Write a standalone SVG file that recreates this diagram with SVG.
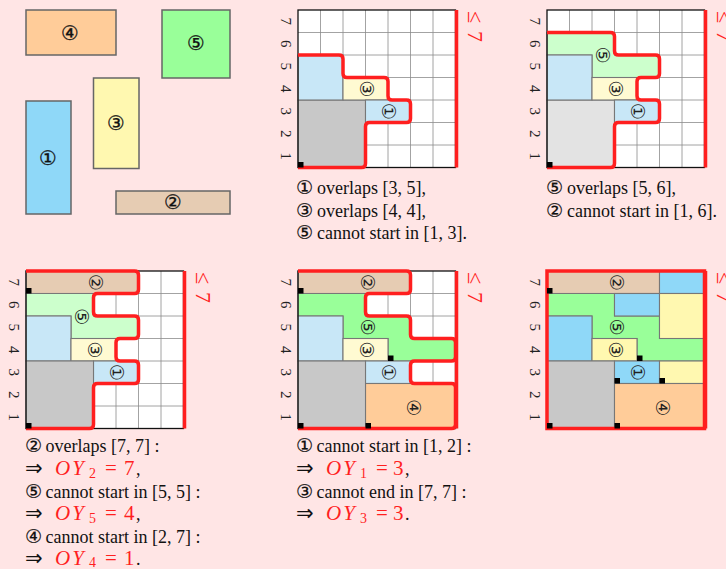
<svg xmlns="http://www.w3.org/2000/svg" xmlns:xlink="http://www.w3.org/1999/xlink" width="726" height="569" viewBox="0 0 726 569">
<style>
.bg{fill:#ffe5e5}
.sh{stroke:#666;stroke-width:1.5}
.c{stroke:#777;stroke-width:1.1}
.lb{fill:#c8e7f7}.ly{fill:#fffad2}.g1{fill:#c8c8c8}.g2{fill:#e3e3e3}
.lg{fill:#ccffcc}.gr{fill:#99ff99}.br{fill:#e6ccb3}.or{fill:#ffcc99}
.bl{fill:#8fd8f8}.ye{fill:#fff8b0}
.red{fill:none;stroke:#ff1f1f;stroke-width:3.5}
.sq{fill:#000}
.rl{font-family:"Liberation Serif","DejaVu Serif",serif;font-size:15px;fill:#222;text-anchor:middle}
.cn{font-family:"DejaVu Sans",sans-serif;font-size:19px;fill:#222;text-anchor:middle}
.cb{font-family:"DejaVu Sans",sans-serif;font-size:20px;fill:#111;text-anchor:middle;stroke:#111;stroke-width:0.3}
.le{font-family:"Liberation Serif","DejaVu Serif",serif;font-size:22px;fill:#ff1f1f}
.t{font-family:"Liberation Serif","DejaVu Sans",serif;font-size:18px;fill:#111}
.cd{font-family:"DejaVu Sans",sans-serif;font-size:19px;stroke:#111;stroke-width:0.2}
.ar{font-family:"DejaVu Sans",sans-serif;font-size:21px}
.mi{font-style:italic;fill:#ff1f1f;font-size:21px;letter-spacing:2px}
.sub{fill:#ff1f1f;font-size:14px}
.r{fill:#ff1f1f;font-size:21px}
</style>
<defs>
<g id="grid">
<rect width="157.5" height="157.5" fill="#fff"/>
<path d="M22.5 0V157.5M45 0V157.5M67.5 0V157.5M90 0V157.5M112.5 0V157.5M135 0V157.5M0 22.5H157.5M0 45H157.5M0 67.5H157.5M0 90H157.5M0 112.5H157.5M0 135H157.5" stroke="#8c8c8c" stroke-width="0.8" fill="none"/>
</g>
<rect id="frame" width="157.5" height="157.5" fill="none" stroke="#111" stroke-width="1.3"/>
<g id="rows" class="rl">
<text transform="translate(-12,11.25) rotate(90)" dy="0.35em">7</text>
<text transform="translate(-12,33.75) rotate(90)" dy="0.35em">6</text>
<text transform="translate(-12,56.25) rotate(90)" dy="0.35em">5</text>
<text transform="translate(-12,78.75) rotate(90)" dy="0.35em">4</text>
<text transform="translate(-12,101.25) rotate(90)" dy="0.35em">3</text>
<text transform="translate(-12,123.75) rotate(90)" dy="0.35em">2</text>
<text transform="translate(-12,146.25) rotate(90)" dy="0.35em">1</text>
</g>
<g id="bound">
<line x1="158.5" y1="0" x2="158.5" y2="157.5" stroke="#ff1f1f" stroke-width="3.5"/>
<text class="le" transform="translate(170,0) rotate(90)"><tspan x="1">≤</tspan><tspan x="21">7</tspan></text>
</g>
</defs>
<rect class="bg" width="726" height="569"/>

<g id="shape4"><rect class="sh or" x="26" y="10" width="90" height="45"/><text class="cb" x="70" y="33" dy="0.35em">④</text></g>
<g id="shape5"><rect class="sh gr" x="162" y="10" width="68" height="68"/><text class="cb" x="196" y="43" dy="0.35em">⑤</text></g>
<g id="shape3"><rect class="sh ye" x="93.5" y="78" width="45.5" height="90.5"/><text class="cb" x="116" y="123" dy="0.35em">③</text></g>
<g id="shape1"><rect class="sh bl" x="26" y="101" width="45" height="113"/><text class="cb" x="48" y="158" dy="0.35em">①</text></g>
<g id="shape2"><rect class="sh br" x="116" y="191" width="114" height="23"/><text class="cb" x="173" y="202" dy="0.35em">②</text></g>

<g id="panel1" transform="translate(298,10)">
<use href="#grid"/>
<rect class="c g1" x="0" y="90" width="67.5" height="67.5"/>
<rect class="c lb" x="0" y="45" width="45" height="45"/>
<rect class="c ly" x="45" y="67.5" width="45" height="22.5"/>
<rect class="c lb" x="67.5" y="90" width="45" height="22.5"/>
<use href="#frame"/>
<path class="red" d="M0,45 L41,45 Q45,45 45,49 L45,63.5 Q45,67.5 49,67.5 L86,67.5 Q90,67.5 90,71.5 L90,86 Q90,90 94,90 L108.5,90 Q112.5,90 112.5,94 L112.5,108.5 Q112.5,112.5 108.5,112.5 L71.5,112.5 Q67.5,112.5 67.5,116.5 L67.5,153.5 Q67.5,157.5 63.5,157.5 L0,157.5"/>
<rect class="sq" x="0" y="152" width="5.5" height="5.5"/>
<text class="cn" transform="translate(68.5,78.75) rotate(90)" dy="0.35em">③</text>
<text class="cn" transform="translate(90.5,101.25) rotate(90)" dy="0.35em">①</text>
<use href="#rows"/><use href="#bound"/>
</g>

<g id="panel2" transform="translate(547,10)">
<use href="#grid"/>
<rect class="c g2" x="0" y="90" width="67.5" height="67.5"/>
<path class="c lg" d="M0,22.5H67.5V45H112.5V67.5H45V45H0Z"/>
<rect class="c lb" x="0" y="45" width="45" height="45"/>
<rect class="c ly" x="45" y="67.5" width="45" height="22.5"/>
<rect class="c lb" x="67.5" y="90" width="45" height="22.5"/>
<use href="#frame"/>
<path class="red" d="M0,22.5 L63.5,22.5 Q67.5,22.5 67.5,26.5 L67.5,41 Q67.5,45 71.5,45 L108.5,45 Q112.5,45 112.5,49 L112.5,63.5 Q112.5,67.5 108.5,67.5 L94,67.5 Q90,67.5 90,71.5 L90,86 Q90,90 94,90 L108.5,90 Q112.5,90 112.5,94 L112.5,108.5 Q112.5,112.5 108.5,112.5 L71.5,112.5 Q67.5,112.5 67.5,116.5 L67.5,153.5 Q67.5,157.5 63.5,157.5 L0,157.5"/>
<rect class="sq" x="0" y="152" width="5.5" height="5.5"/>
<text class="cn" transform="translate(56,45) rotate(90)" dy="0.35em">⑤</text>
<text class="cn" transform="translate(68.5,78.75) rotate(90)" dy="0.35em">③</text>
<text class="cn" transform="translate(90.5,101.25) rotate(90)" dy="0.35em">①</text>
<use href="#rows"/><use href="#bound"/>
</g>

<g id="panel3" transform="translate(26,271)">
<use href="#grid"/>
<rect class="c br" x="0" y="0" width="112.5" height="22.5"/>
<path class="c lg" d="M0,22.5H67.5V45H112.5V67.5H45V45H0Z"/>
<rect class="c lb" x="0" y="45" width="45" height="45"/>
<rect class="c ly" x="45" y="67.5" width="45" height="22.5"/>
<rect class="c lb" x="67.5" y="90" width="45" height="22.5"/>
<rect class="c g1" x="0" y="90" width="67.5" height="67.5"/>
<use href="#frame"/>
<path class="red" d="M0,0 L108.5,0 Q112.5,0 112.5,4 L112.5,18.5 Q112.5,22.5 108.5,22.5 L71.5,22.5 Q67.5,22.5 67.5,26.5 L67.5,41 Q67.5,45 71.5,45 L108.5,45 Q112.5,45 112.5,49 L112.5,63.5 Q112.5,67.5 108.5,67.5 L94,67.5 Q90,67.5 90,71.5 L90,86 Q90,90 94,90 L108.5,90 Q112.5,90 112.5,94 L112.5,108.5 Q112.5,112.5 108.5,112.5 L71.5,112.5 Q67.5,112.5 67.5,116.5 L67.5,153.5 Q67.5,157.5 63.5,157.5 L0,157.5"/>
<rect class="sq" x="0" y="17" width="5.5" height="5.5"/>
<rect class="sq" x="0" y="152" width="5.5" height="5.5"/>
<text class="cn" transform="translate(69.5,11.25) rotate(90)" dy="0.35em">②</text>
<text class="cn" transform="translate(56,45.5) rotate(90)" dy="0.35em">⑤</text>
<text class="cn" transform="translate(68.5,78.75) rotate(90)" dy="0.35em">③</text>
<text class="cn" transform="translate(90.5,101.25) rotate(90)" dy="0.35em">①</text>
<use href="#rows"/><use href="#bound"/>
</g>

<g id="panel4" transform="translate(298,271)">
<use href="#grid"/>
<rect class="c br" x="0" y="0" width="112.5" height="22.5"/>
<path class="c gr" d="M0,22.5H67.5V45H112.5V67.5H157.5V90H90V67.5H45V45H0Z"/>
<rect class="c lb" x="0" y="45" width="45" height="45"/>
<rect class="c ly" x="45" y="67.5" width="45" height="22.5"/>
<rect class="c lb" x="67.5" y="90" width="45" height="22.5"/>
<rect class="c or" x="67.5" y="112.5" width="90" height="45"/>
<rect class="c g1" x="0" y="90" width="67.5" height="67.5"/>
<use href="#frame"/>
<path class="red" d="M0,0 L108.5,0 Q112.5,0 112.5,4 L112.5,18.5 Q112.5,22.5 108.5,22.5 L71.5,22.5 Q67.5,22.5 67.5,26.5 L67.5,41 Q67.5,45 71.5,45 L108.5,45 Q112.5,45 112.5,49 L112.5,63.5 Q112.5,67.5 116.5,67.5 L153.5,67.5 Q157.5,67.5 157.5,71.5 L157.5,86 Q157.5,90 153.5,90 L116.5,90 Q112.5,90 112.5,94 L112.5,108.5 Q112.5,112.5 116.5,112.5 L153.5,112.5 Q157.5,112.5 157.5,116.5 L157.5,153.5 Q157.5,157.5 153.5,157.5 L0,157.5"/>
<rect class="sq" x="0" y="17" width="5.5" height="5.5"/>
<rect class="sq" x="0" y="152" width="5.5" height="5.5"/>
<rect class="sq" x="67.5" y="152" width="5.5" height="5.5"/>
<rect class="sq" x="90" y="84.5" width="5.5" height="5.5"/>
<text class="cn" transform="translate(69.5,11.25) rotate(90)" dy="0.35em">②</text>
<text class="cn" transform="translate(69.5,56) rotate(90)" dy="0.35em">⑤</text>
<text class="cn" transform="translate(68.5,78.75) rotate(90)" dy="0.35em">③</text>
<text class="cn" transform="translate(90.5,101.25) rotate(90)" dy="0.35em">①</text>
<text class="cn" transform="translate(115.5,136.5) rotate(90)" dy="0.35em">④</text>
<use href="#rows"/><use href="#bound"/>
</g>

<g id="panel5" transform="translate(547,271)">
<use href="#grid"/>
<rect class="c br" x="0" y="0" width="112.5" height="22.5"/>
<rect class="c bl" x="112.5" y="0" width="45" height="22.5"/>
<path class="c gr" d="M0,22.5H67.5V45H112.5V67.5H157.5V90H90V67.5H45V45H0Z"/>
<rect class="c bl" x="67.5" y="22.5" width="45" height="22.5"/>
<rect class="c ye" x="112.5" y="22.5" width="45" height="45"/>
<rect class="c bl" x="0" y="45" width="45" height="45"/>
<rect class="c ye" x="45" y="67.5" width="45" height="22.5"/>
<rect class="c g1" x="0" y="90" width="67.5" height="67.5"/>
<rect class="c bl" x="67.5" y="90" width="45" height="22.5"/>
<rect class="c ye" x="112.5" y="90" width="45" height="22.5"/>
<rect class="c or" x="67.5" y="112.5" width="90" height="45"/>
<use href="#frame"/>
<rect class="red" x="0" y="0" width="157.5" height="157.5"/>
<rect class="sq" x="0" y="17" width="5.5" height="5.5"/>
<rect class="sq" x="0" y="152" width="5.5" height="5.5"/>
<rect class="sq" x="67.5" y="152" width="5.5" height="5.5"/>
<rect class="sq" x="90" y="84.5" width="5.5" height="5.5"/>
<rect class="sq" x="67.5" y="107" width="5.5" height="5.5"/>
<rect class="sq" x="112.5" y="107" width="5.5" height="5.5"/>
<text class="cn" transform="translate(69.5,11.25) rotate(90)" dy="0.35em">②</text>
<text class="cn" transform="translate(69.5,56) rotate(90)" dy="0.35em">⑤</text>
<text class="cn" transform="translate(68.5,78.75) rotate(90)" dy="0.35em">③</text>
<text class="cn" transform="translate(90.5,101.25) rotate(90)" dy="0.35em">①</text>
<text class="cn" transform="translate(115.5,136.5) rotate(90)" dy="0.35em">④</text>
<use href="#rows"/><use href="#bound"/>
</g>

<g id="text1" class="t">
<text y="194"><tspan x="296" class="cd">①</tspan><tspan x="317">overlaps [3, 5],</tspan></text>
<text y="216.6"><tspan x="296" class="cd">③</tspan><tspan x="317">overlaps [4, 4],</tspan></text>
<text y="239.2"><tspan x="296" class="cd">⑤</tspan><tspan x="317">cannot start in [1, 3].</tspan></text>
</g>
<g id="text2" class="t">
<text y="194"><tspan x="546" class="cd">⑤</tspan><tspan x="567">overlaps [5, 6],</tspan></text>
<text y="216.6"><tspan x="546" class="cd">②</tspan><tspan x="567">cannot start in [1, 6].</tspan></text>
</g>
<g id="text3" class="t">
<text y="452"><tspan x="25" class="cd">②</tspan><tspan x="45.5">overlaps [7, 7] :</tspan></text>
<text y="475"><tspan x="25" class="ar">⇒</tspan><tspan x="55" class="mi">OY</tspan><tspan x="89" dy="3" class="sub">2</tspan><tspan x="105" dy="-3" class="r">=</tspan><tspan x="124" class="r">7</tspan><tspan x="136">,</tspan></text>
<text y="497.5"><tspan x="25" class="cd">⑤</tspan><tspan x="45.5">cannot start in [5, 5] :</tspan></text>
<text y="520"><tspan x="25" class="ar">⇒</tspan><tspan x="55" class="mi">OY</tspan><tspan x="89" dy="3" class="sub">5</tspan><tspan x="105" dy="-3" class="r">=</tspan><tspan x="124" class="r">4</tspan><tspan x="136">,</tspan></text>
<text y="542.5"><tspan x="25" class="cd">④</tspan><tspan x="45.5">cannot start in [2, 7] :</tspan></text>
<text y="564.5"><tspan x="25" class="ar">⇒</tspan><tspan x="55" class="mi">OY</tspan><tspan x="89" dy="2.5" class="sub">4</tspan><tspan x="105" dy="-2.5" class="r">=</tspan><tspan x="124" class="r">1</tspan><tspan x="136">.</tspan></text>
</g>
<g id="text4" class="t">
<text y="452"><tspan x="296" class="cd">①</tspan><tspan x="316.5">cannot start in [1, 2] :</tspan></text>
<text y="475"><tspan x="296" class="ar">⇒</tspan><tspan x="326" class="mi">OY</tspan><tspan x="360" dy="3" class="sub">1</tspan><tspan x="376" dy="-3" class="r">=</tspan><tspan x="393" class="r">3</tspan><tspan x="405">,</tspan></text>
<text y="497.5"><tspan x="296" class="cd">③</tspan><tspan x="316.5">cannot end in [7, 7] :</tspan></text>
<text y="520"><tspan x="296" class="ar">⇒</tspan><tspan x="326" class="mi">OY</tspan><tspan x="360" dy="3" class="sub">3</tspan><tspan x="376" dy="-3" class="r">=</tspan><tspan x="393" class="r">3</tspan><tspan x="405">.</tspan></text>
</g>
</svg>
